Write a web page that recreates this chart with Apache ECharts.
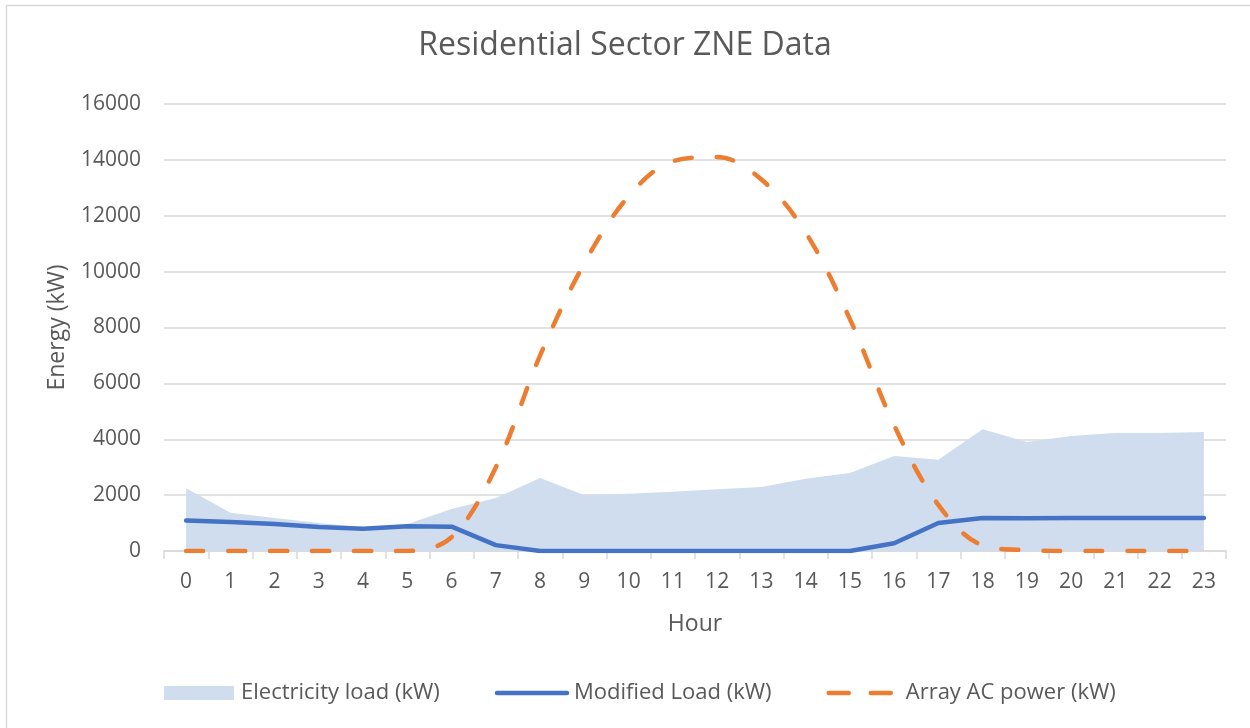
<!DOCTYPE html>
<html>
<head>
<meta charset="utf-8">
<title>Residential Sector ZNE Data</title>
<script src="https://cdn.jsdelivr.net/npm/echarts@6/dist/echarts.min.js"></script>
<style>
  html, body { margin: 0; padding: 0; background: #fff; }
  #main { width: 1250px; height: 728px; }
</style>
</head>
<body>
<div id="main"></div>
<script>
var hours = ['0','1','2','3','4','5','6','7','8','9','10','11','12','13','14','15','16','17','18','19','20','21','22','23']
var electricityLoad = [2250, 1370, 1180, 1000, 850, 970, 1500, 1900, 2610, 2000, 2050, 2120, 2210, 2290, 2590, 2790, 3400, 3270, 4360, 3900, 4120, 4220, 4220, 4260]
var modifiedLoad = [1090, 1040, 970, 860, 800, 890, 870, 210, 0, 0, 0, 0, 0, 0, 0, 0, 280, 1000, 1180, 1170, 1180, 1180, 1180, 1180]
var arrayAC = [0, 0, 0, 0, 0, 0, 500, 3000, 7000, 10300, 12700, 13950, 14100, 13300, 11400, 8300, 4500, 1650, 200, 30, 0, 0, 0, 0]

var myChart = echarts.init(document.getElementById('main'));
var fontFam = '"Open Sans", sans-serif'
var grayText = '#595959'

option = {
    backgroundColor : '#fff',
    animation : false,
    title : {
        text : 'Residential Sector ZNE Data',
        left : 'center',
        top : 25,
        textStyle : {
            fontFamily : fontFam,
            fontSize : 32,
            fontWeight : 'normal',
            color : grayText
        }
    },
    graphic : [ {
        type : 'rect',
        shape : { x : 6.5, y : 5.5, width : 1260, height : 740 },
        style : { fill : 'none', stroke : '#d9d9d9', lineWidth : 1.5 },
        silent : true
    } ],
    legend : {
        left : 164,
        top : 682,
        padding : 0,
        itemWidth : 70,
        itemHeight : 14,
        itemGap : 55,
        textStyle : {
            fontFamily : fontFam,
            fontSize : 22,
            color : grayText,
            padding : [0, 0, 0, 2]
        },
        data : [
            { name : 'Electricity load (kW)', icon : 'rect' },
            { name : 'Modified Load (kW)',
              itemStyle : { opacity : 0 },
              lineStyle : { width : 4.5, cap : 'round' } },
            { name : 'Array AC power (kW)',
              itemStyle : { opacity : 0 },
              lineStyle : { width : 4.5, type : [20, 22], cap : 'round' } }
        ]
    },
    grid : {
        left : 164,
        right : 24,
        top : 104,
        bottom : 177
    },
    xAxis : {
        type : 'category',
        data : hours,
        boundaryGap : true,
        name : 'Hour',
        nameLocation : 'middle',
        nameGap : 62,
        nameTextStyle : {
            fontFamily : fontFam,
            fontSize : 23,
            color : grayText
        },
        axisLine : { lineStyle : { color : '#d9d9d9', width : 1.5 } },
        axisTick : { show : true, length : 8, lineStyle : { color : '#d9d9d9', width : 1.5 } },
        axisLabel : {
            margin : 21,
            fontFamily : fontFam,
            fontSize : 21,
            color : grayText
        }
    },
    yAxis : {
        type : 'value',
        min : 0,
        max : 16000,
        interval : 2000,
        name : 'Energy (kW)',
        nameLocation : 'middle',
        nameGap : 95,
        nameTextStyle : {
            fontFamily : fontFam,
            fontSize : 23,
            color : grayText
        },
        axisLine : { show : false },
        axisTick : { show : false },
        axisLabel : {
            margin : 23,
            fontFamily : fontFam,
            fontSize : 21,
            color : grayText,
            formatter : function(v) { return String(v); }
        },
        splitLine : { lineStyle : { color : '#d9d9d9', width : 1.5 } }
    },
    series : [ {
        name : 'Electricity load (kW)',
        type : 'line',
        data : electricityLoad,
        symbol : 'none',
        lineStyle : { width : 0 },
        itemStyle : { color : '#cfddef' },
        areaStyle : { color : '#cfddef', opacity : 1 },
        z : 1
    }, {
        name : 'Modified Load (kW)',
        type : 'line',
        data : modifiedLoad,
        symbol : 'none',
        itemStyle : { color : '#4472c4' },
        lineStyle : { color : '#4472c4', width : 4.5, cap : 'round', join : 'round' },
        z : 3
    }, {
        name : 'Array AC power (kW)',
        type : 'line',
        data : arrayAC,
        symbol : 'none',
        smooth : 0.35,
        itemStyle : { color : '#ed7d31' },
        lineStyle : { color : '#ed7d31', width : 4.5, type : [17, 25], cap : 'round', join : 'round' },
        z : 4
    } ]
};

myChart.setOption(option);
</script>
</body>
</html>
